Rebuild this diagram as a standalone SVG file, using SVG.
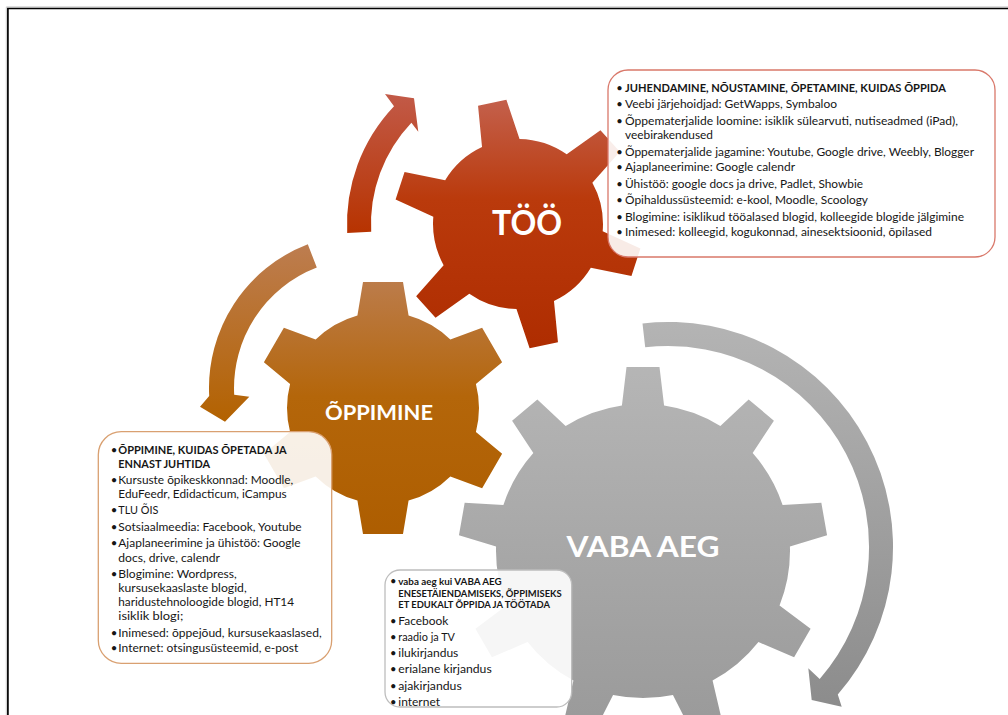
<svg xmlns="http://www.w3.org/2000/svg" width="1008" height="715" viewBox="0 0 1008 715">
<style>
.t{font-family:Lato,"Liberation Sans",sans-serif;font-size:11.4px;fill:#161616}
.t1{font-size:11.2px}
.b{font-weight:bold}
.s{font-size:9px}
.m{font-size:11.2px}
.bu{text-anchor:middle}
.lbl{font-family:Lato,"Liberation Sans",sans-serif;font-weight:bold;fill:#fff;text-anchor:middle}
.box{fill:#fff;fill-opacity:0.9;stroke-width:1.3}
</style>
<defs>
<linearGradient id="gRed" x1="0" y1="0" x2="0" y2="1"><stop offset="0" stop-color="#c4624f"/><stop offset="0.4" stop-color="#ba3a0c"/><stop offset="1" stop-color="#ae2c00"/></linearGradient>
<linearGradient id="gOr" x1="0" y1="0" x2="0" y2="1"><stop offset="0" stop-color="#bc7d4e"/><stop offset="0.45" stop-color="#b4660a"/><stop offset="1" stop-color="#ad5d00"/></linearGradient>
<linearGradient id="gGr" x1="0" y1="0" x2="0" y2="1"><stop offset="0" stop-color="#b6b6b6"/><stop offset="1" stop-color="#999999"/></linearGradient>
<linearGradient id="aRed" x1="0" y1="0" x2="0" y2="1"><stop offset="0" stop-color="#c25a48"/><stop offset="1" stop-color="#b73300"/></linearGradient>
<linearGradient id="aOr" x1="0" y1="0" x2="0" y2="1"><stop offset="0" stop-color="#bd7d50"/><stop offset="1" stop-color="#b36200"/></linearGradient>
<linearGradient id="aGr" x1="0" y1="0" x2="0" y2="1"><stop offset="0" stop-color="#b4b4b4"/><stop offset="1" stop-color="#8c8c8c"/></linearGradient>
<clipPath id="cRed">
<circle cx="518" cy="224" r="85"/>
<polygon points="498.5,144 503.5,100 532.5,100 537.5,144" transform="rotate(-12 518 224)"/>
<polygon points="498.5,144 503.5,100 532.5,100 537.5,144" transform="rotate(48 518 224)"/>
<polygon points="498.5,144 503.5,100 532.5,100 537.5,144" transform="rotate(108 518 224)"/>
<polygon points="498.5,144 503.5,100 532.5,100 537.5,144" transform="rotate(168 518 224)"/>
<polygon points="498.5,144 503.5,100 532.5,100 537.5,144" transform="rotate(228 518 224)"/>
<polygon points="498.5,144 503.5,100 532.5,100 537.5,144" transform="rotate(288 518 224)"/>
</clipPath>
<clipPath id="cOr">
<circle cx="383" cy="408" r="96"/>
<polygon points="357,318 363,282 403,282 409,318"/>
<polygon points="357,318 363,282 403,282 409,318" transform="rotate(60 383 408)"/>
<polygon points="357,318 363,282 403,282 409,318" transform="rotate(120 383 408)"/>
<polygon points="357,318 363,282 403,282 409,318" transform="rotate(180 383 408)"/>
<polygon points="357,318 363,282 403,282 409,318" transform="rotate(240 383 408)"/>
<polygon points="357,318 363,282 403,282 409,318" transform="rotate(300 383 408)"/>
</clipPath>
<clipPath id="cGr">
<circle cx="643" cy="551" r="147"/>
<polygon points="621.5,409 626.5,367 659.5,367 664.5,409"/>
<polygon points="621.5,409 626.5,367 659.5,367 664.5,409" transform="rotate(40 643 551)"/>
<polygon points="621.5,409 626.5,367 659.5,367 664.5,409" transform="rotate(80 643 551)"/>
<polygon points="621.5,409 626.5,367 659.5,367 664.5,409" transform="rotate(120 643 551)"/>
<polygon points="621.5,409 626.5,367 659.5,367 664.5,409" transform="rotate(160 643 551)"/>
<polygon points="621.5,409 626.5,367 659.5,367 664.5,409" transform="rotate(200 643 551)"/>
<polygon points="621.5,409 626.5,367 659.5,367 664.5,409" transform="rotate(240 643 551)"/>
<polygon points="621.5,409 626.5,367 659.5,367 664.5,409" transform="rotate(280 643 551)"/>
<polygon points="621.5,409 626.5,367 659.5,367 664.5,409" transform="rotate(320 643 551)"/>
</clipPath>
</defs>
<rect width="1008" height="715" fill="#fff"/>
<g id="page-border" fill="none">
<path d="M6.3 715V6.9H1008" stroke="#c8c8c8" stroke-width="1"/>
<path d="M7.9 715V8.5H1008" stroke="#000" stroke-width="1.7"/>
</g>
<g id="gear-vaba-aeg">
<rect x="455" y="360" width="380" height="380" fill="url(#gGr)" clip-path="url(#cGr)"/>
<text class="lbl" x="643" y="557" font-size="28" textLength="153" lengthAdjust="spacingAndGlyphs">VABA AEG</text>
</g>
<g id="gear-oppimine">
<rect x="250" y="275" width="270" height="270" fill="url(#gOr)" clip-path="url(#cOr)"/>
<text class="lbl" x="379" y="420" font-size="21.5" textLength="108" lengthAdjust="spacingAndGlyphs">ÕPPIMINE</text>
</g>
<g id="gear-too">
<rect x="390" y="95" width="260" height="260" fill="url(#gRed)" clip-path="url(#cRed)"/>
<text class="lbl" x="527" y="235" font-size="34" textLength="70" lengthAdjust="spacingAndGlyphs">TÖÖ</text>
</g>
<g id="connectors">
<path d="M347.2,232.9 A171 171 0 0 1 394,106.3 L385,94 L414,98.3 L418.3,131.7 L411.4,122.8 A147 147 0 0 0 371.2,231.7 Z" fill="url(#aRed)"/>
<path d="M307.8,244.2 A154 154 0 0 0 209.2,396.1 L200,406.7 L225,421.7 L249.3,396.7 L234.2,394.8 A129 129 0 0 1 316.8,267.6 Z" fill="url(#aOr)"/>
<path d="M642.5,323.4 A225 225 0 0 1 837.8,694.6 L841.7,706.7 L811.7,700 L808.3,668.3 L819.7,678.9 A201 201 0 0 0 645.2,347.3 Z" fill="url(#aGr)"/>
</g>
<g id="box-too">
<rect class="box" x="608" y="70" width="387" height="187" rx="20" stroke="#d9786a"/>
<g class="t t1">
<text class="bu" x="619.5" y="92.3">•</text>
<text class="b" x="625" y="92.3" textLength="321" lengthAdjust="spacingAndGlyphs">JUHENDAMINE, NÕUSTAMINE, ÕPETAMINE, KUIDAS ÕPPIDA</text>
<text class="bu" x="619.5" y="107.7">•</text>
<text x="625" y="107.7" textLength="212" lengthAdjust="spacingAndGlyphs">Veebi järjehoidjad: GetWapps, Symbaloo</text>
<text class="bu" x="619.5" y="124.7">•</text>
<text x="625" y="124.7" textLength="333" lengthAdjust="spacingAndGlyphs">Õppematerjalide loomine: isiklik sülearvuti, nutiseadmed (iPad),</text>
<text x="625" y="139" textLength="88" lengthAdjust="spacingAndGlyphs">veebirakendused</text>
<text class="bu" x="619.5" y="155.7">•</text>
<text x="625" y="155.7" textLength="349" lengthAdjust="spacingAndGlyphs">Õppematerjalide jagamine: Youtube, Google drive, Weebly, Blogger</text>
<text class="bu" x="619.5" y="170.7">•</text>
<text x="625" y="170.7" textLength="170" lengthAdjust="spacingAndGlyphs">Ajaplaneerimine: Google calendr</text>
<text class="bu" x="619.5" y="187.7">•</text>
<text x="625" y="187.7" textLength="238" lengthAdjust="spacingAndGlyphs">Ühistöö: google docs ja drive, Padlet, Showbie</text>
<text class="bu" x="619.5" y="204.3">•</text>
<text x="625" y="204.3" textLength="243" lengthAdjust="spacingAndGlyphs">Õpihaldussüsteemid: e-kool, Moodle, Scoology</text>
<text class="bu" x="619.5" y="221">•</text>
<text x="625" y="221" textLength="339" lengthAdjust="spacingAndGlyphs">Blogimine: isiklikud tööalased blogid, kolleegide blogide jälgimine</text>
<text class="bu" x="619.5" y="236.3">•</text>
<text x="625" y="236.3" textLength="307" lengthAdjust="spacingAndGlyphs">Inimesed: kolleegid, kogukonnad, ainesektsioonid, õpilased</text>
</g>
</g>
<g id="box-oppimine">
<rect class="box" x="98.3" y="431.7" width="233.4" height="231.6" rx="23" stroke="#d9a071"/>
<g class="t">
<text class="bu" x="114" y="454.3">•</text>
<text class="b" x="118.3" y="454.3" textLength="168.4" lengthAdjust="spacingAndGlyphs">ÕPPIMINE, KUIDAS ÕPETADA JA</text>
<text class="b" x="118.3" y="468.3" textLength="91.7" lengthAdjust="spacingAndGlyphs">ENNAST JUHTIDA</text>
<text class="bu" x="114" y="484.3">•</text>
<text x="118.3" y="484.3" textLength="175" lengthAdjust="spacingAndGlyphs">Kursuste õpikeskkonnad: Moodle,</text>
<text x="118.3" y="498.3" textLength="168.4" lengthAdjust="spacingAndGlyphs">EduFeedr, Edidacticum, iCampus</text>
<text class="bu" x="114" y="514.3">•</text>
<text x="118.3" y="514.3" textLength="40" lengthAdjust="spacingAndGlyphs">TLU ÕIS</text>
<text class="bu" x="114" y="531">•</text>
<text x="118.3" y="531" textLength="183.4" lengthAdjust="spacingAndGlyphs">Sotsiaalmeedia: Facebook, Youtube</text>
<text class="bu" x="114" y="546.7">•</text>
<text x="118.3" y="546.7" textLength="182.4" lengthAdjust="spacingAndGlyphs">Ajaplaneerimine ja ühistöö: Google</text>
<text x="118.3" y="561.7" textLength="101.7" lengthAdjust="spacingAndGlyphs">docs, drive, calendr</text>
<text class="bu" x="114" y="577.7">•</text>
<text x="118.3" y="577.7" textLength="118.4" lengthAdjust="spacingAndGlyphs">Blogimine: Wordpress,</text>
<text x="118.3" y="591.7" textLength="128.4" lengthAdjust="spacingAndGlyphs">kursusekaaslaste blogid,</text>
<text x="118.3" y="606" textLength="175.7" lengthAdjust="spacingAndGlyphs">haridustehnoloogide blogid, HT14</text>
<text x="118.3" y="620" textLength="65" lengthAdjust="spacingAndGlyphs">isiklik blogi;</text>
<text class="bu" x="114" y="636.7">•</text>
<text x="118.3" y="636.7" textLength="203.4" lengthAdjust="spacingAndGlyphs">Inimesed: õppejõud, kursusekaaslased,</text>
<text class="bu" x="114" y="651.7">•</text>
<text x="118.3" y="651.7" textLength="180" lengthAdjust="spacingAndGlyphs">Internet: otsingusüsteemid, e-post</text>
</g>
</g>
<g id="box-vaba-aeg">
<rect class="box" x="385" y="570" width="186.7" height="137" rx="15" stroke="#bdbdbd"/>
<g class="t">
<text class="bu m" x="393.3" y="585.3">•</text>
<text class="b s" x="398.3" y="585.3" textLength="103.4" lengthAdjust="spacingAndGlyphs">vaba aeg kui VABA AEG</text>
<text class="b s" x="398.3" y="596.7" textLength="163.4" lengthAdjust="spacingAndGlyphs">ENESETÄIENDAMISEKS, ÕPPIMISEKS</text>
<text class="b s" x="398.3" y="607.7" textLength="151.7" lengthAdjust="spacingAndGlyphs">ET EDUKALT ÕPPIDA JA TÖÖTADA</text>
<text class="bu m" x="393.3" y="625">•</text>
<text class="m" x="398.3" y="625" textLength="50" lengthAdjust="spacingAndGlyphs">Facebook</text>
<text class="bu m" x="393.3" y="641">•</text>
<text class="m" x="398.3" y="641" textLength="56.7" lengthAdjust="spacingAndGlyphs">raadio ja TV</text>
<text class="bu m" x="393.3" y="657.3">•</text>
<text class="m" x="398.3" y="657.3" textLength="60" lengthAdjust="spacingAndGlyphs">ilukirjandus</text>
<text class="bu m" x="393.3" y="672.7">•</text>
<text class="m" x="398.3" y="672.7" textLength="93.4" lengthAdjust="spacingAndGlyphs">erialane kirjandus</text>
<text class="bu m" x="393.3" y="690">•</text>
<text class="m" x="398.3" y="690" textLength="63.4" lengthAdjust="spacingAndGlyphs">ajakirjandus</text>
<text class="bu m" x="393.3" y="705.5">•</text>
<text class="m" x="398.3" y="705.5" textLength="41.7" lengthAdjust="spacingAndGlyphs">internet</text>
</g>
</g>
</svg>
